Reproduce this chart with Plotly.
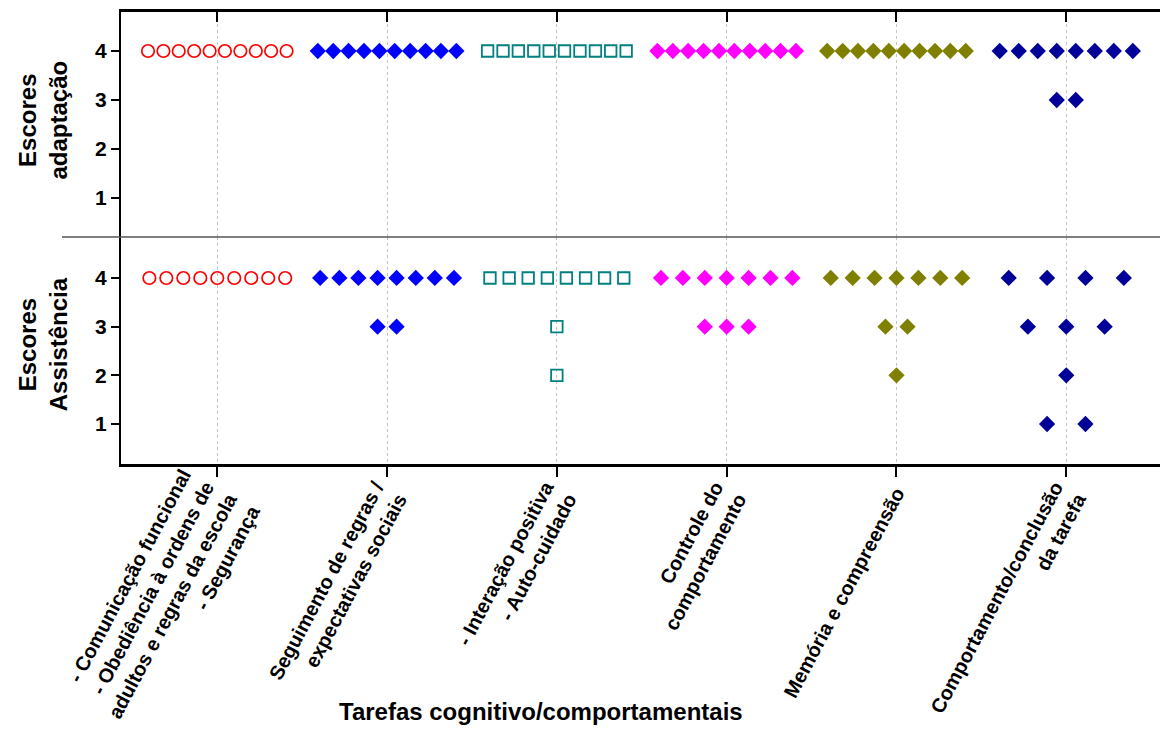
import plotly.graph_objects as go

# ---------------- data ----------------
categories = [1, 2, 3, 4, 5, 6]
cat_labels = [
    "- Comunicação funcional<br>- Obediência à ordens de<br>adultos e regras da escola<br>- Segurança",
    "Seguimento de regras /<br>expectativas sociais",
    "- Interação positiva<br>- Auto-cuidado",
    "Controle do<br>comportamento",
    "Memória e compreensão",
    "Comportamento/conclusão<br>da tarefa",
]
y_ticks = [1, 2, 3, 4]

# Escores adaptação (top panel): scores and horizontal jitter per point
adapt_g1_y = [4, 4, 4, 4, 4, 4, 4, 4, 4, 4]
adapt_g1_dx = [-0.408, -0.317, -0.227, -0.136, -0.045, 0.045, 0.136, 0.227, 0.317, 0.408]
adapt_g2_y = [4, 4, 4, 4, 4, 4, 4, 4, 4, 4]
adapt_g2_dx = [-0.408, -0.317, -0.227, -0.136, -0.045, 0.045, 0.136, 0.227, 0.317, 0.408]
adapt_g3_y = [4, 4, 4, 4, 4, 4, 4, 4, 4, 4]
adapt_g3_dx = [-0.408, -0.317, -0.227, -0.136, -0.045, 0.045, 0.136, 0.227, 0.317, 0.408]
adapt_g4_y = [4, 4, 4, 4, 4, 4, 4, 4, 4, 4]
adapt_g4_dx = [-0.408, -0.317, -0.227, -0.136, -0.045, 0.045, 0.136, 0.227, 0.317, 0.408]
adapt_g5_y = [4, 4, 4, 4, 4, 4, 4, 4, 4, 4]
adapt_g5_dx = [-0.408, -0.317, -0.227, -0.136, -0.045, 0.045, 0.136, 0.227, 0.317, 0.408]
adapt_g6_y = [4, 4, 4, 4, 4, 4, 4, 4, 3, 3]
adapt_g6_dx = [-0.392, -0.280, -0.168, -0.056, 0.056, 0.168, 0.280, 0.392, -0.056, 0.056]

# Escores Assistência (bottom panel)
assist_g1_y = [4, 4, 4, 4, 4, 4, 4, 4, 4]
assist_g1_dx = [-0.40, -0.30, -0.20, -0.10, 0.0, 0.10, 0.20, 0.30, 0.40]
assist_g2_y = [4, 4, 4, 4, 4, 4, 4, 4, 3, 3]
assist_g2_dx = [-0.394, -0.281, -0.169, -0.056, 0.056, 0.169, 0.281, 0.394, -0.056, 0.056]
assist_g3_y = [4, 4, 4, 4, 4, 4, 4, 4, 3, 2]
assist_g3_dx = [-0.394, -0.281, -0.169, -0.056, 0.056, 0.169, 0.281, 0.394, 0.0, 0.0]
assist_g4_y = [4, 4, 4, 4, 4, 4, 4, 3, 3, 3]
assist_g4_dx = [-0.387, -0.258, -0.129, 0.0, 0.129, 0.258, 0.387, -0.129, 0.0, 0.129]
assist_g5_y = [4, 4, 4, 4, 4, 4, 4, 3, 3, 2]
assist_g5_dx = [-0.387, -0.258, -0.129, 0.0, 0.129, 0.258, 0.387, -0.065, 0.065, 0.0]
assist_g6_y = [4, 4, 4, 4, 3, 3, 3, 2, 1, 1]
assist_g6_dx = [-0.339, -0.113, 0.113, 0.339, -0.226, 0.0, 0.226, 0.0, -0.113, 0.113]

# ---------------- styles ----------------
group_styles = [
    dict(symbol="circle-open", size=12.5, color="#FF0000", line=dict(width=1.7, color="#FF0000")),
    dict(symbol="diamond", size=12.5, color="#0000FF", line=dict(width=0)),
    dict(symbol="square-open", size=11.5, color="#008080", line=dict(width=1.8, color="#008080")),
    dict(symbol="diamond", size=12.5, color="#FF00FF", line=dict(width=0)),
    dict(symbol="diamond", size=12.5, color="#808000", line=dict(width=0)),
    dict(symbol="diamond", size=12.5, color="#000099", line=dict(width=0)),
]

adapt_groups = [
    (adapt_g1_y, adapt_g1_dx), (adapt_g2_y, adapt_g2_dx), (adapt_g3_y, adapt_g3_dx),
    (adapt_g4_y, adapt_g4_dx), (adapt_g5_y, adapt_g5_dx), (adapt_g6_y, adapt_g6_dx),
]
assist_groups = [
    (assist_g1_y, assist_g1_dx), (assist_g2_y, assist_g2_dx), (assist_g3_y, assist_g3_dx),
    (assist_g4_y, assist_g4_dx), (assist_g5_y, assist_g5_dx), (assist_g6_y, assist_g6_dx),
]

fig = go.Figure()
for cat, (ys, dxs), st in zip(categories, adapt_groups, group_styles):
    fig.add_trace(go.Scatter(x=[cat + d for d in dxs], y=ys, mode="markers",
                             marker=st, xaxis="x2", yaxis="y2", showlegend=False,
                             cliponaxis=False))
for cat, (ys, dxs), st in zip(categories, assist_groups, group_styles):
    fig.add_trace(go.Scatter(x=[cat + d for d in dxs], y=ys, mode="markers",
                             marker=st, xaxis="x", yaxis="y", showlegend=False,
                             cliponaxis=False))

FONT = "Liberation Sans, Arial, sans-serif"
split = 0.5022
x_range = [0.433, 6.552]
grid = dict(showgrid=True, gridcolor="#c4c4c4", gridwidth=1, griddash="dot")

fig.update_layout(
    width=1160, height=729,
    margin=dict(l=121, r=0, t=12, b=265),
    paper_bgcolor="white", plot_bgcolor="white",
    font=dict(family=FONT, color="black"),
    xaxis=dict(domain=[0, 1], anchor="y", range=x_range, tickmode="array",
               tickvals=categories, ticktext=cat_labels, tickangle=-62,
               tickfont=dict(size=20, weight="bold"), ticklabelstandoff=-3,
               showline=True,
               linecolor="black", linewidth=2.5, ticks="outside", ticklen=10,
               tickwidth=2, tickcolor="black", zeroline=False, automargin=False, **grid),
    xaxis2=dict(domain=[0, 1], anchor="y2", matches="x", range=x_range, side="top",
                tickmode="array", tickvals=categories, showticklabels=False,
                showline=True, linecolor="black", linewidth=2.5, ticks="inside",
                ticklen=10, tickwidth=2, tickcolor="black", zeroline=False,
                automargin=False, **grid),
    yaxis=dict(domain=[0, split], anchor="x", range=[0.178, 4.842], tickmode="array",
               tickvals=y_ticks, showline=True, linecolor="black", linewidth=2,
               ticks="outside", ticklen=8, tickwidth=1.5, tickcolor="black",
               tickfont=dict(size=21, weight="bold"), showgrid=False, zeroline=False,
               automargin=False),
    yaxis2=dict(domain=[split, 1], anchor="x2", range=[0.204, 4.796], tickmode="array",
                tickvals=y_ticks, showline=True, linecolor="black", linewidth=2,
                ticks="outside", ticklen=8, tickwidth=1.5, tickcolor="black",
                tickfont=dict(size=21, weight="bold"), showgrid=False, zeroline=False,
                automargin=False),
    shapes=[dict(type="line", xref="paper", yref="paper", x0=-0.0568, x1=1,
                 y0=split, y1=split, line=dict(color="#555555", width=1.5))],
    annotations=[
        dict(text="Tarefas cognitivo/comportamentais", xref="paper", yref="paper",
             x=0.404, y=-0.548, xanchor="center", yanchor="middle", showarrow=False,
             font=dict(size=24, weight="bold", family=FONT)),
        dict(text="Escores<br>adaptação", xref="paper", yref="paper",
             x=-0.075, y=0.76, xanchor="center", yanchor="middle", showarrow=False,
             textangle=-90, font=dict(size=24, weight="bold", family=FONT)),
        dict(text="Escores<br>Assistência", xref="paper", yref="paper",
             x=-0.075, y=0.265, xanchor="center", yanchor="middle", showarrow=False,
             textangle=-90, font=dict(size=24, weight="bold", family=FONT)),
    ],
)

fig.write_html(
    "out.html",
    config={"displayModeBar": False},
    post_script="document.body.style.margin='0';document.body.style.overflow='hidden';",
)
